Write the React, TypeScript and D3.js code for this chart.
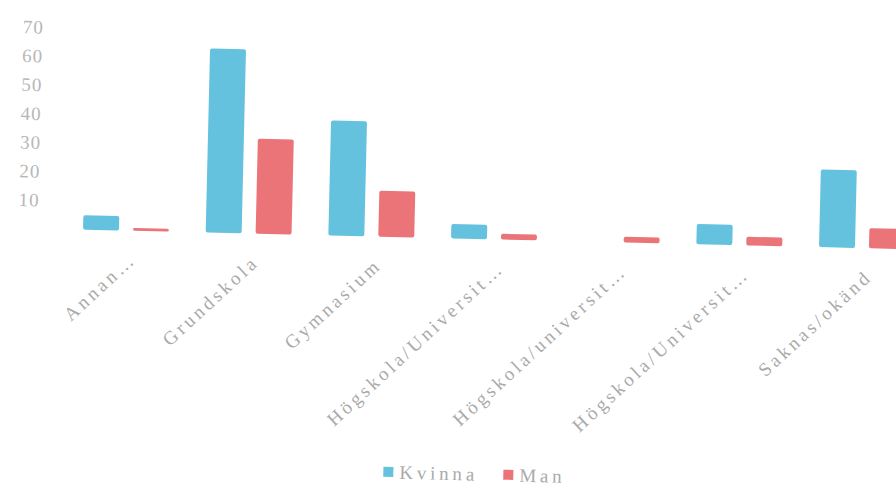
import React, { useEffect, useRef } from "react";
import * as d3 from "d3";

const categories = [
  "Annan…",
  "Grundskola",
  "Gymnasium",
  "Högskola/Universit…",
  "Högskola/universit…",
  "Högskola/Universit…",
  "Saknas/okänd",
];
const kvinna = [5, 64, 40, 5, 0, 7, 27];
const man = [1, 33, 16, 2, 2, 3, 7];
const seriesNames = ["Kvinna", "Man"];
const yTicks = [10, 20, 30, 40, 50, 60, 70];

const colors: Record<string, string> = { Kvinna: "#64c2df", Man: "#eb7479" };

export default function App() {
  const ref = useRef<SVGSVGElement>(null);

  useEffect(() => {
    const svg = d3.select(ref.current);
    svg.selectAll("*").remove();

    const width = 896;
    const height = 488;
    const y0 = 230;

    svg.attr("width", width).attr("height", height);

    // the scan is slightly tilted, so the whole chart is rotated a bit
    const g = svg.append("g").attr("transform", `rotate(1.36, 100, ${y0})`);

    const x0 = d3
      .scaleBand<number>()
      .domain(d3.range(categories.length))
      .range([64.6, 923.5])
      .paddingInner(0.3)
      .paddingOuter(0.15);

    const x1 = d3
      .scaleBand()
      .domain(seriesNames)
      .range([0, x0.bandwidth()])
      .paddingInner(0.28);

    const y = d3.scaleLinear().domain([0, 70]).range([y0, 28.6]);

    const font = "'Liberation Serif', 'DejaVu Serif', serif";

    // y tick labels, no axis line
    g.append("g")
      .selectAll("text")
      .data(yTicks)
      .enter()
      .append("text")
      .attr("x", 39)
      .attr("y", (d) => y(d))
      .attr("dy", "0.35em")
      .attr("text-anchor", "end")
      .attr("font-family", font)
      .attr("font-size", 19)
      .attr("letter-spacing", 1)
      .attr("fill", "#b8b8b8")
      .text((d) => d);

    const rows = categories.map((c, i) => ({ i, values: [kvinna[i], man[i]] }));

    const groups = g
      .selectAll("g.cat")
      .data(rows)
      .enter()
      .append("g")
      .attr("class", "cat")
      .attr("transform", (d) => `translate(${x0(d.i)},0)`);

    groups
      .selectAll("rect")
      .data((d) => d.values.map((v, k) => ({ key: seriesNames[k], v })))
      .enter()
      .append("rect")
      .attr("x", (d) => x1(d.key)!)
      .attr("width", x1.bandwidth())
      .attr("y", (d) => y(d.v))
      .attr("height", (d) => y0 - y(d.v))
      .attr("rx", 2)
      .attr("fill", (d) => colors[d.key]);

    // rotated category labels
    g.append("g")
      .selectAll("text")
      .data(rows)
      .enter()
      .append("text")
      .attr(
        "transform",
        (d) => `translate(${x0(d.i)! + x0.bandwidth() / 2 + 12},${y0 + 30}) rotate(-44)`
      )
      .attr("text-anchor", "end")
      .attr("font-family", font)
      .attr("font-size", 19)
      .attr("letter-spacing", 3.4)
      .attr("fill", "#aaaaaa")
      .text((d) => categories[d.i]);

    // legend
    const legend = g
      .append("g")
      .selectAll("g")
      .data(seriesNames)
      .enter()
      .append("g")
      .attr("transform", (d, i) => `translate(${389 + i * 120},465)`);

    legend
      .append("rect")
      .attr("x", 0)
      .attr("y", -5)
      .attr("width", 10)
      .attr("height", 10)
      .attr("fill", (d) => colors[d]);

    legend
      .append("text")
      .attr("x", 16)
      .attr("y", 0)
      .attr("dy", "0.35em")
      .attr("font-family", font)
      .attr("font-size", 19)
      .attr("letter-spacing", 3.8)
      .attr("fill", "#aaaaaa")
      .text((d) => d);
  }, []);

  return (
    <div style={{ position: "absolute", left: 0, top: 0, background: "#fff" }}>
      <svg ref={ref} style={{ display: "block" }} />
    </div>
  );
}
